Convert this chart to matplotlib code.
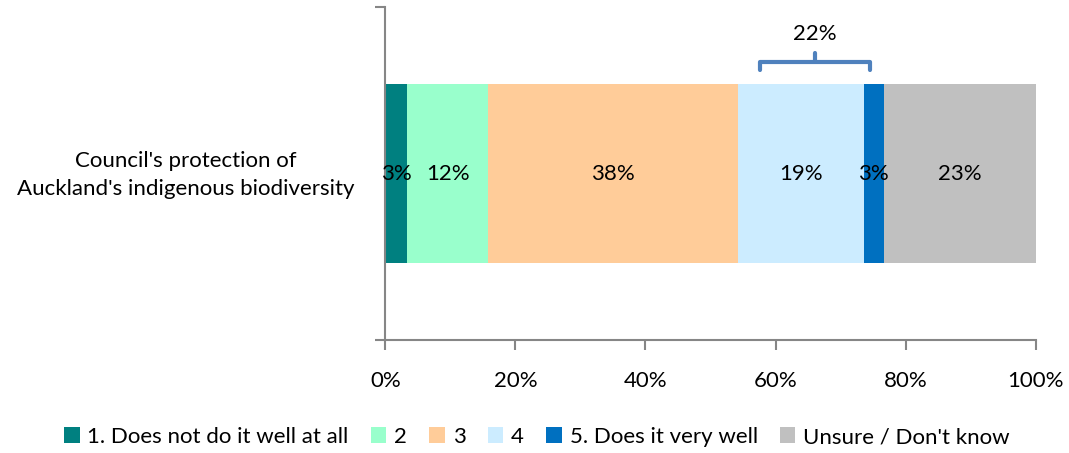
import matplotlib
matplotlib.use("Agg")
import matplotlib.pyplot as plt
from matplotlib.patches import Patch
from matplotlib.ticker import FuncFormatter

plt.rcParams['font.family'] = ['Lato', 'DejaVu Sans']

# Survey data
category = "Council's protection of\nAuckland's indigenous biodiversity"
series_names = ["1. Does not do it well at all", "2", "3", "4",
                "5. Does it very well", "Unsure / Don't know"]
values = [3.4, 12.4, 38.4, 19.4, 3.0, 23.4]
colors = ["#008080", "#99FFCC", "#FFCC99", "#CCECFF", "#0070C0", "#C0C0C0"]
net_good_label = "22%"
net_good_series = [3, 4]  # series summed for the bracket (4 and 5)
xticks = [0, 20, 40, 60, 80, 100]

FS = 16
W, H = 1069, 453
fig = plt.figure(figsize=(W / 100, H / 100), dpi=100)
ax = fig.add_axes([385.3 / W, 1 - 340 / H, (1035.7 - 385.3) / W, 333 / H])

bar_h = 0.54
left = 0.0
lefts = []
for v, c in zip(values, colors):
    ax.barh(0, v, left=left, height=bar_h, color=c, edgecolor='none')
    lefts.append(left)
    ax.text(left + v / 2, 0, f"{round(v):.0f}%", ha='center', va='center',
            fontsize=FS, color='black')
    left += v

ax.set_xlim(0, 100)
ax.set_ylim(-0.5, 0.5)

# Bracket over the "4" and "5" segments
s0, s1 = net_good_series
b_left = lefts[s0] + 3.4
b_right = lefts[s1] + values[s1] - 2.0
b_mid = (b_left + b_right) / 2
y_line, y_end, y_nub = 0.335, 0.311, 0.362
bcol = "#4F81BD"
ax.plot([b_left, b_left, b_right, b_right], [y_end, y_line, y_line, y_end],
        color=bcol, lw=3, solid_capstyle='round', solid_joinstyle='round',
        clip_on=False)
ax.plot([b_mid, b_mid], [y_line, y_nub], color=bcol, lw=3,
        solid_capstyle='round', clip_on=False)
ax.text(b_mid, 0.42, net_good_label, ha='center', va='center', fontsize=FS,
        clip_on=False)

# Axes styling
axis_col = "#868686"
for s in ['top', 'right']:
    ax.spines[s].set_visible(False)
for s in ['left', 'bottom']:
    ax.spines[s].set_color(axis_col)
    ax.spines[s].set_linewidth(1.5)

ax.set_xticks(xticks)
ax.xaxis.set_major_formatter(FuncFormatter(lambda x, p: f"{x:.0f}%"))
ax.tick_params(axis='x', direction='out', length=7, width=1.5, color=axis_col,
               labelsize=FS, pad=15)
ax.set_yticks([-0.5, 0.5])
ax.set_yticklabels(["", ""])
ax.tick_params(axis='y', direction='out', length=7, width=1.5, color=axis_col)

fig.text(186 / W, 1 - 175 / H, category, ha='center', va='center',
         fontsize=FS, linespacing=1.55)

handles = [Patch(facecolor=c, edgecolor='none') for c in colors]
fig.legend(handles, series_names, loc='center', ncol=6,
           bbox_to_anchor=(537 / W, 1 - 437 / H), frameon=False,
           fontsize=FS, handlelength=0.7, handleheight=0.7,
           handletextpad=0.35, columnspacing=1.0)

fig.savefig("out.png", dpi=100)
